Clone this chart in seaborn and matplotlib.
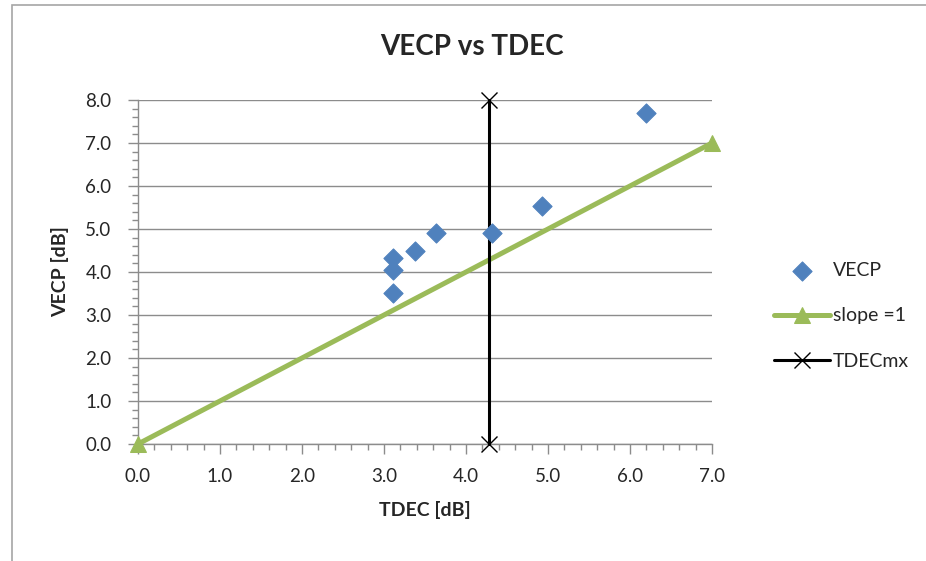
import matplotlib
matplotlib.use("Agg")
import matplotlib.pyplot as plt
import seaborn as sns
import pandas as pd
from matplotlib.patches import Rectangle
from matplotlib.ticker import MultipleLocator, FormatStrFormatter

# data
tdec = [3.11, 3.11, 3.11, 3.38, 3.63, 4.32, 4.93, 6.20]
vecp = [3.52, 4.04, 4.33, 4.50, 4.90, 4.90, 5.53, 7.70]
slope_x = [0.0, 7.0]
slope_y = [0.0, 7.0]
tdecmx_x = [4.28, 4.28]
tdecmx_y = [0.0, 8.0]

blue = "#4F81BD"
green = "#9BBB59"

sns.set_style("white")
plt.rcParams["font.family"] = ["Lato", "DejaVu Sans"]

fig = plt.figure(figsize=(9.26, 5.61), dpi=100)
ax = fig.add_axes([138 / 926, 1 - 444 / 561, 574 / 926, 344 / 561])

# chart border
fig.patches.append(Rectangle((12 / 926, -0.05), 1.0, 1 - 5 / 561 + 0.05,
                             transform=fig.transFigure, fill=False,
                             edgecolor="#A6A6A6", linewidth=1.2))

for yv in range(0, 9):
    ax.axhline(yv, color="#8C8C8C", linewidth=1.0, zorder=0)

sns.lineplot(x=slope_x, y=slope_y, ax=ax, color=green, linewidth=3.6,
             marker="^", markersize=12, markeredgecolor=green,
             estimator=None, sort=False, label="slope =1", clip_on=False, zorder=3)
sns.lineplot(x=tdecmx_x, y=tdecmx_y, ax=ax, color="black", linewidth=2.2,
             marker="x", markersize=11, markeredgewidth=1.0,
             markeredgecolor="black",
             estimator=None, sort=False, label="TDECmx", clip_on=False, zorder=4)
sns.scatterplot(x=tdec, y=vecp, ax=ax, color=blue, marker="D", s=95,
                edgecolor=blue, label="VECP", zorder=5, clip_on=False)

ax.set_xlim(0, 7)
ax.set_ylim(0, 8)
ax.xaxis.set_major_locator(MultipleLocator(1))
ax.yaxis.set_major_locator(MultipleLocator(1))
ax.xaxis.set_minor_locator(MultipleLocator(0.2))
ax.yaxis.set_minor_locator(MultipleLocator(0.2))
ax.xaxis.set_major_formatter(FormatStrFormatter("%.1f"))
ax.yaxis.set_major_formatter(FormatStrFormatter("%.1f"))
ax.tick_params(axis="both", which="major", direction="out", length=7,
               width=1, color="#8C8C8C", labelsize=13.5, pad=10, bottom=True, left=True)
ax.tick_params(axis="both", which="minor", direction="out", length=4,
               width=1, color="#8C8C8C", bottom=True, left=True)
ax.tick_params(axis="y", which="major", pad=12)

for side in ["top", "right"]:
    ax.spines[side].set_visible(False)
for side in ["left", "bottom"]:
    ax.spines[side].set_color("#8C8C8C")
    ax.spines[side].set_linewidth(1.0)

ax.set_xlabel("TDEC [dB]", fontsize=14, fontweight="bold", labelpad=12)
ax.set_ylabel("VECP [dB]", fontsize=14, fontweight="bold", labelpad=12)
fig.text(0.51, 1 - 47 / 561, "VECP vs TDEC", ha="center", va="center",
         fontsize=20, fontweight="bold")

handles, labels = ax.get_legend_handles_labels()
order = [labels.index(n) for n in ["VECP", "slope =1", "TDECmx"]]
ax.legend([handles[i] for i in order], [labels[i] for i in order],
          loc="center left", bbox_to_anchor=(756 / 926, 1 - 316 / 561),
          bbox_transform=fig.transFigure, frameon=False, fontsize=14,
          labelspacing=1.45, handlelength=2.9, handletextpad=0.15)

fig.savefig("out.png", dpi=100)
